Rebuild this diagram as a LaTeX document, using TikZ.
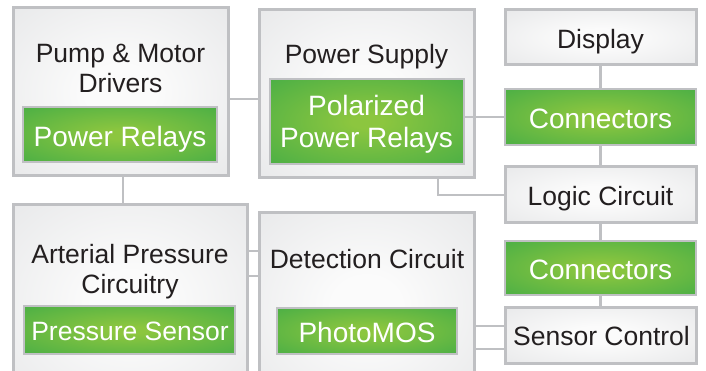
\documentclass[tikz,border=0pt]{standalone}
\usepackage{fontspec}
\newfontfamily\labfont{Liberation Sans}
\definecolor{edgegray}{HTML}{BFC0C3}
\definecolor{boxin}{HTML}{FBFBFB}
\definecolor{boxout}{HTML}{DEDFE1}
\definecolor{grin}{HTML}{8CC63F}
\definecolor{grout}{HTML}{2FA548}
\definecolor{textdark}{HTML}{231F20}
\pgfdeclareradialshading{grayrad}{\pgfpoint{0bp}{0bp}}{color(0bp)=(boxin); color(8bp)=(boxin); color(52bp)=(boxout); color(75bp)=(boxout)}
\pgfdeclareradialshading{greenrad}{\pgfpoint{0bp}{0bp}}{color(0bp)=(grin); color(4bp)=(grin); color(50bp)=(grout); color(75bp)=(grout)}
\begin{document}
\begin{tikzpicture}[x=1pt,y=-1pt,
  graybox/.style={rectangle, draw=edgegray, line width=3pt, shading=grayrad, inner sep=0pt, outer sep=0pt},
  greenbox/.style={rectangle, draw=edgegray, line width=2.5pt, shading=greenrad, inner sep=0pt, outer sep=0pt},
  txt/.style={font=\labfont\fontsize{26.5}{30}\selectfont, text=textdark, inner sep=0pt, anchor=base},
  wtxt/.style={font=\labfont\fontsize{28}{32}\selectfont, text=white, inner sep=0pt, anchor=base},
  link/.style={draw=edgegray, line width=2.5pt}]
\clip (0,0) rectangle (706,371);
\fill[white] (0,0) rectangle (706,371);
% boxes
\node[graybox, minimum width=215pt, minimum height=168pt] (pump) at (120.5,92) {};
\node[greenbox, minimum width=194pt, minimum height=55pt] (prelay) at (120,134.5) {};
\node[graybox, minimum width=215pt, minimum height=168pt] (psupply) at (366.5,94) {};
\node[greenbox, minimum width=194pt, minimum height=85pt] (polar) at (367,121.5) {};
\node[graybox, minimum width=191pt, minimum height=55pt] (display) at (600.5,37.5) {};
\node[greenbox, minimum width=191pt, minimum height=56pt] (conn1) at (600.5,117) {};
\node[graybox, minimum width=191pt, minimum height=56pt] (logic) at (600.5,195) {};
\node[greenbox, minimum width=191pt, minimum height=54pt] (conn2) at (600.5,268) {};
\node[graybox, minimum width=191pt, minimum height=56pt] (sensor) at (600.5,335) {};
\node[graybox, minimum width=234pt, minimum height=195pt] (arterial) at (130,302.5) {};
\node[greenbox, minimum width=211pt, minimum height=48pt] (psensor) at (129.5,330) {};
\node[graybox, minimum width=215pt, minimum height=187pt] (detect) at (366.5,306.5) {};
\node[greenbox, minimum width=180pt, minimum height=46pt] (photomos) at (367,331) {};
% connectors
\coordinate (j1) at ([yshift=-7pt]pump.east);
\draw[link] (j1) -- (j1 -| psupply.west);
\coordinate (j2) at ([xshift=2.5pt]pump.south);
\draw[link] (j2) -- (j2 |- arterial.north);
\draw[link] (conn1.west) -- (conn1.west -| polar.east);
\coordinate (j3) at ([xshift=71.5pt]psupply.south);
\draw[link] (j3) |- (logic.west);
\draw[link] (display.south) -- (conn1.north);
\draw[link] (conn1.south) -- (logic.north);
\draw[link] (logic.south) -- (conn2.north);
\draw[link] (conn2.south) -- (sensor.north);
\coordinate (j4) at ([yshift=51.5pt]arterial.east);
\coordinate (j5) at ([yshift=26.5pt]arterial.east);
\draw[link] (j4) -- (j4 -| detect.west);
\draw[link] (j5) -- (j5 -| detect.west);
\coordinate (j6) at ([yshift=9pt]sensor.west);
\coordinate (j7) at ([yshift=-14pt]sensor.west);
\draw[link] (j6) -- (j6 -| detect.east);
\draw[link] (j7) -- (j7 -| detect.east);
% texts
\node[txt] (t1) at (120.5,63) {Pump \& Motor};
\node[txt] (t2) at (120.5,93) {Drivers};
\node[wtxt] (t3) at (120,146.5) {Power Relays};
\node[txt] (t4) at (366.5,64) {Power Supply};
\node[wtxt] (t5) at (366.5,115.5) {Polarized};
\node[wtxt] (t6) at (366.5,147.5) {Power Relays};
\node[txt] (t7) at (600.5,48.3) {Display};
\node[wtxt] (t8) at (600.5,128.3) {Connectors};
\node[txt] (t9) at (600.5,206) {Logic Circuit};
\node[wtxt] (t10) at (600.5,279.3) {Connectors};
\node[txt] (t11) at (601.5,345) {Sensor Control};
\node[txt] (t12) at (130,263.3) {Arterial Pressure};
\node[txt] (t13) at (130,293.3) {Circuitry};
\node[wtxt, font=\labfont\fontsize{26.5}{30}\selectfont] (t14) at (130,340.7) {Pressure Sensor};
\node[txt] (t15) at (367,268.3) {Detection Circuit};
\node[wtxt] (t16) at (367,342.3) {PhotoMOS};
\end{tikzpicture}
\end{document}
